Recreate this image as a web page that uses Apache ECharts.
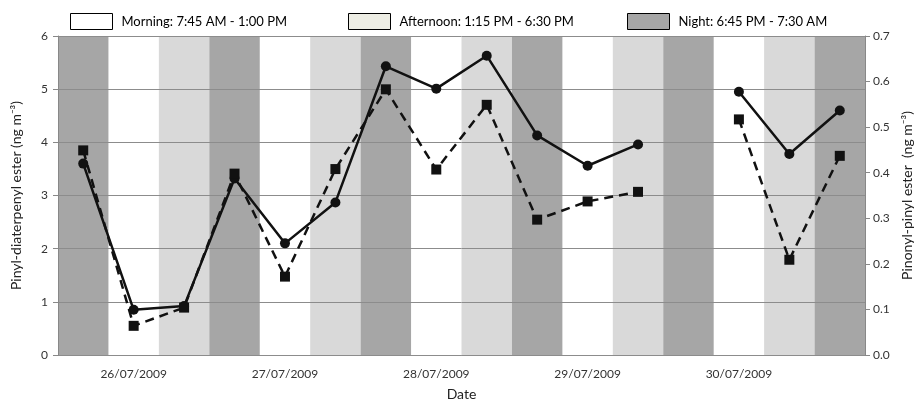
<!DOCTYPE html>
<html>
<head>
<meta charset="utf-8">
<script src="https://cdn.jsdelivr.net/npm/echarts@6/dist/echarts.min.js"></script>
<style>
  html, body { margin: 0; padding: 0; background: #fff; }
  #chart { width: 917px; height: 402px; }
</style>
</head>
<body>
<div id="chart"></div>
<script>
// sampling periods, one per category (night is labelled with the date it starts)
const dates = ['25/07/2009', '26/07/2009', '26/07/2009', '26/07/2009', '27/07/2009', '27/07/2009',
    '27/07/2009', '28/07/2009', '28/07/2009', '28/07/2009', '29/07/2009', '29/07/2009',
    '29/07/2009', '30/07/2009', '30/07/2009', '30/07/2009'];
const periods = ['Night', 'Morning', 'Afternoon', 'Night', 'Morning', 'Afternoon', 'Night', 'Morning',
    'Afternoon', 'Night', 'Morning', 'Afternoon', 'Night', 'Morning', 'Afternoon', 'Night'];
const periodLabels = {
    Morning: 'Morning: 7:45 AM - 1:00 PM',
    Afternoon: 'Afternoon: 1:15 PM - 6:30 PM',
    Night: 'Night: 6:45 PM - 7:30 AM'
};

// Pinyl-diaterpenyl ester (left axis, ng m-3)
const pinylDiaterpenyl = [3.6, 0.85, 0.92, 3.32, 2.1, 2.87, 5.43, 5.01, 5.63, 4.13, 3.56, 3.96,
    null, 4.95, 3.78, 4.6];
// Pinonyl-pinyl ester (right axis, ng m-3)
const pinonylPinyl = [0.449, 0.064, 0.104, 0.398, 0.172, 0.408, 0.583, 0.407, 0.549, 0.297, 0.337, 0.358,
    null, 0.517, 0.209, 0.437];

const categories = dates.map((d, i) => d + ' ' + periods[i]);

const bandColors = { Morning: '#ffffff', Afternoon: '#d9d9d9', Night: '#a6a6a6' };
const legendColors = { Morning: '#ffffff', Afternoon: '#ededE4', Night: '#a6a6a6' };
const legendLeft = { Morning: 65, Afternoon: 343, Night: 622 };

const font = 'Lato, "Open Sans", sans-serif';
const chart = echarts.init(document.getElementById('chart'));

const bandSeries = Object.keys(periodLabels).map(p => ({
    name: periodLabels[p],
    type: 'bar',
    yAxisIndex: 2,
    barWidth: '100%',
    barGap: '-100%',
    z: 1,
    silent: true,
    itemStyle: { color: bandColors[p] },
    data: periods.map(q => q === p ? 1 : null)
}));

const legends = Object.keys(periodLabels).map(p => ({
    left: legendLeft[p],
    top: 8,
    itemWidth: 42,
    itemHeight: 16,
    textStyle: { fontFamily: font, fontSize: 13, color: '#000', padding: [0, 0, 0, 4] },
    data: [{
        name: periodLabels[p],
        icon: 'rect',
        itemStyle: { color: legendColors[p], borderColor: '#000', borderWidth: 1 }
    }]
}));

const option = {
    animation: false,
    legend: legends,
    grid: { left: 58, right: 52, top: 36, bottom: 47, outerBoundsMode: 'none', containLabel: false },
    xAxis: {
        type: 'category',
        data: categories,
        boundaryGap: true,
        name: 'Date',
        nameLocation: 'middle',
        nameGap: 32,
        nameTextStyle: { fontFamily: font, fontSize: 14, color: '#222' },
        axisLine: { lineStyle: { color: '#888' } },
        axisTick: { interval: 0, length: 5, lineStyle: { color: '#888' } },
        axisLabel: {
            interval: (i) => periods[i] === 'Morning',
            formatter: (v) => v.split(' ')[0],
            fontFamily: font, fontSize: 12, color: '#333', margin: 13
        }
    },
    yAxis: [{
        type: 'value',
        min: 0, max: 6, interval: 1,
        z: 2,
        name: 'Pinyl-diaterpenyl ester (ng m\u207B\u00B3)',
        nameLocation: 'middle',
        nameGap: 35,
        nameTextStyle: { fontFamily: font, fontSize: 14, color: '#222' },
        axisLine: { show: true, lineStyle: { color: '#888' } },
        axisTick: { show: true, length: 5, lineStyle: { color: '#888' } },
        axisLabel: { fontFamily: font, fontSize: 12, color: '#333', margin: 10 },
        splitLine: { show: true, lineStyle: { color: '#8c8c8c', width: 1 } }
    }, {
        type: 'value',
        position: 'right',
        min: 0, max: 0.7, interval: 0.1,
        z: 2,
        name: 'Pinonyl-pinyl ester  (ng m\u207B\u00B3)',
        nameLocation: 'middle',
        nameGap: 33,
        nameRotate: 90,
        nameTextStyle: { fontFamily: font, fontSize: 14, color: '#222' },
        axisLine: { show: true, lineStyle: { color: '#888' } },
        axisTick: { show: true, length: 5, lineStyle: { color: '#888' } },
        axisLabel: { fontFamily: font, fontSize: 12, color: '#333', margin: 8, formatter: v => v.toFixed(1) },
        splitLine: { show: false }
    }, {
        type: 'value',
        min: 0, max: 1,
        show: false
    }],
    series: bandSeries.concat([{
        name: 'Pinyl-diaterpenyl ester',
        type: 'line',
        yAxisIndex: 0,
        z: 5,
        data: pinylDiaterpenyl,
        symbol: 'circle',
        symbolSize: 10,
        lineStyle: { color: '#111', width: 2.5 },
        itemStyle: { color: '#111' }
    }, {
        name: 'Pinonyl-pinyl ester',
        type: 'line',
        yAxisIndex: 1,
        z: 5,
        data: pinonylPinyl,
        symbol: 'rect',
        symbolSize: 10,
        lineStyle: { color: '#111', width: 2.5, type: [9, 6] },
        itemStyle: { color: '#111' }
    }])
};
chart.setOption(option);
</script>
</body>
</html>
